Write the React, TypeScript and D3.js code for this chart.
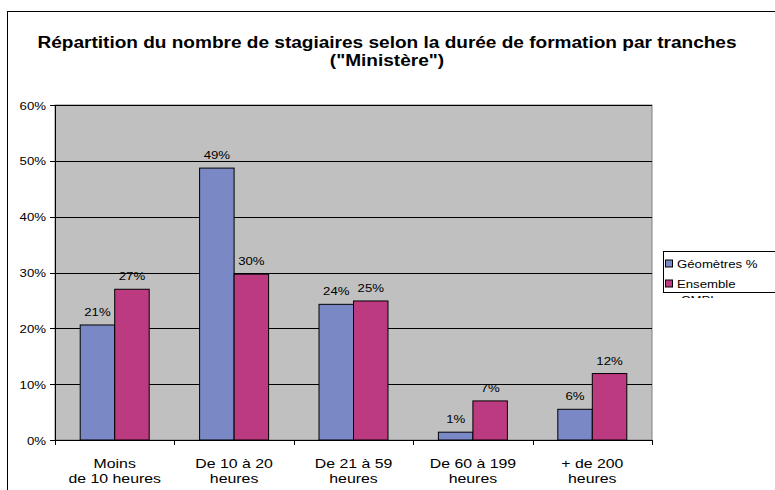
import React, { useRef, useEffect } from "react";
import * as d3 from "d3";

const categories = [
  ["Moins", "de 10 heures"],
  ["De 10 à 20", "heures"],
  ["De 21 à 59", "heures"],
  ["De 60 à 199", "heures"],
  ["+ de 200", "heures"],
];
const geometres = [20.6, 48.7, 24.3, 1.4, 5.5];
const ensemble = [27.0, 29.7, 24.9, 7.0, 11.9];
const geometresLabels = ["21%", "49%", "24%", "1%", "6%"];
const ensembleLabels = ["27%", "30%", "25%", "7%", "12%"];
const yTicks = [0, 10, 20, 30, 40, 50, 60];
const seriesNames = ["Géomètres %", "Ensemble"];

const BLUE = "#7A88C6";
const MAGENTA = "#BC3A80";
const FONT = "'Liberation Sans', Arial, sans-serif";
// the source picture is stretched sideways, so text is widened to match
const STRETCH = 1.2;

const App = () => {
  const svgRef = useRef<SVGSVGElement>(null);

  useEffect(() => {
    const svg = d3.select(svgRef.current);
    svg.selectAll("*").remove();

    const label = (g, x, y, txt, size, anchor = "middle", bold = false, stretch = STRETCH) =>
      g.append("text")
        .attr("transform", `translate(${x},${y}) scale(${stretch},1)`)
        .attr("text-anchor", anchor)
        .attr("font-family", FONT)
        .attr("font-size", size)
        .attr("font-weight", bold ? "bold" : "normal")
        .attr("fill", "black")
        .text(txt);

    const plot = { left: 55, right: 652, top: 105, bottom: 440 };
    const x = d3.scaleBand<number>()
      .domain(d3.range(categories.length))
      .range([plot.left, plot.right]);
    const y = d3.scaleLinear().domain([0, 60]).range([plot.bottom, plot.top]);
    const barW = 34.5;

    // outer frame
    svg.append("rect")
      .attr("x", 7.5).attr("y", 11.5)
      .attr("width", 780).attr("height", 490)
      .attr("fill", "white").attr("stroke", "black").attr("stroke-width", 1);

    // title
    label(svg, 387, 48, "Répartition du nombre de stagiaires selon la durée de formation par tranches", 16, "middle", true, 1.19);
    label(svg, 387, 66, '("Ministère")', 16, "middle", true, 1.19);

    // plot background
    svg.append("rect")
      .attr("x", plot.left).attr("y", plot.top)
      .attr("width", plot.right - plot.left).attr("height", plot.bottom - plot.top)
      .attr("fill", "#C0C0C0").attr("stroke", "#808080");

    // gridlines
    svg.append("g").selectAll("line")
      .data(yTicks.filter((d) => d > 0))
      .enter().append("line")
      .attr("x1", plot.left).attr("x2", plot.right)
      .attr("y1", (d) => Math.round(y(d)) + 0.5).attr("y2", (d) => Math.round(y(d)) + 0.5)
      .attr("stroke", "black");

    // bars
    const bars = svg.append("g");
    categories.forEach((c, i) => {
      const cx = x(i)! + x.bandwidth() / 2;
      [geometres[i], ensemble[i]].forEach((v, j) => {
        const bx = cx - barW + j * barW;
        bars.append("rect")
          .attr("x", bx).attr("y", y(v))
          .attr("width", barW).attr("height", y(0) - y(v))
          .attr("fill", j === 0 ? BLUE : MAGENTA)
          .attr("stroke", "black").attr("stroke-width", 1);
        label(bars, bx + barW / 2, y(v) - 9, j === 0 ? geometresLabels[i] : ensembleLabels[i], 11);
      });
    });

    // y axis
    const yg = svg.append("g");
    yg.append("line")
      .attr("x1", plot.left + 0.5).attr("x2", plot.left + 0.5)
      .attr("y1", plot.top).attr("y2", plot.bottom)
      .attr("stroke", "black");
    yTicks.forEach((t) => {
      const yy = Math.round(y(t)) + 0.5;
      yg.append("line")
        .attr("x1", plot.left - 5).attr("x2", plot.left)
        .attr("y1", yy).attr("y2", yy)
        .attr("stroke", "black");
      label(yg, 46, y(t) + 4.5, t + "%", 11, "end");
    });

    // x axis
    const xg = svg.append("g");
    xg.append("line")
      .attr("x1", plot.left).attr("x2", plot.right)
      .attr("y1", plot.bottom + 0.5).attr("y2", plot.bottom + 0.5)
      .attr("stroke", "black");
    const bounds = d3.range(categories.length + 1).map((i) =>
      i < categories.length ? x(i)! : plot.right);
    xg.selectAll(".tk").data(bounds).enter().append("line")
      .attr("x1", (d) => Math.round(d) + 0.5).attr("x2", (d) => Math.round(d) + 0.5)
      .attr("y1", plot.bottom).attr("y2", plot.bottom + 5)
      .attr("stroke", "black");
    categories.forEach((c, i) => {
      c.forEach((line, k) => {
        label(xg, x(i)! + x.bandwidth() / 2, 468 + k * 14.5, line, 13, "middle", false, 1.22);
      });
    });

    // legend
    const lg = svg.append("g");
    lg.append("clipPath").attr("id", "lgclip")
      .append("rect").attr("x", 663).attr("y", 293).attr("width", 120).attr("height", 5);
    lg.append("rect")
      .attr("x", 663.5).attr("y", 251.5)
      .attr("width", 130).attr("height", 41)
      .attr("fill", "white").attr("stroke", "black");
    seriesNames.forEach((s, i) => {
      const yy = 263.5 + i * 20;
      lg.append("rect")
        .attr("x", 665.5).attr("y", yy - 3.5)
        .attr("width", 7).attr("height", 7)
        .attr("fill", i === 0 ? BLUE : MAGENTA).attr("stroke", "black");
      label(lg, 677, yy + 4, s, 11, "start");
    });
    // third legend line spills past the box and is cut off
    const cut = lg.append("g").attr("clip-path", "url(#lgclip)");
    label(cut, 681, 304, "CMPL", 11, "start");
  }, []);

  return (
    <svg
      ref={svgRef}
      width={775}
      height={490}
      style={{ position: "absolute", left: 0, top: 0, background: "white" }}
    ></svg>
  );
};

export default App;
